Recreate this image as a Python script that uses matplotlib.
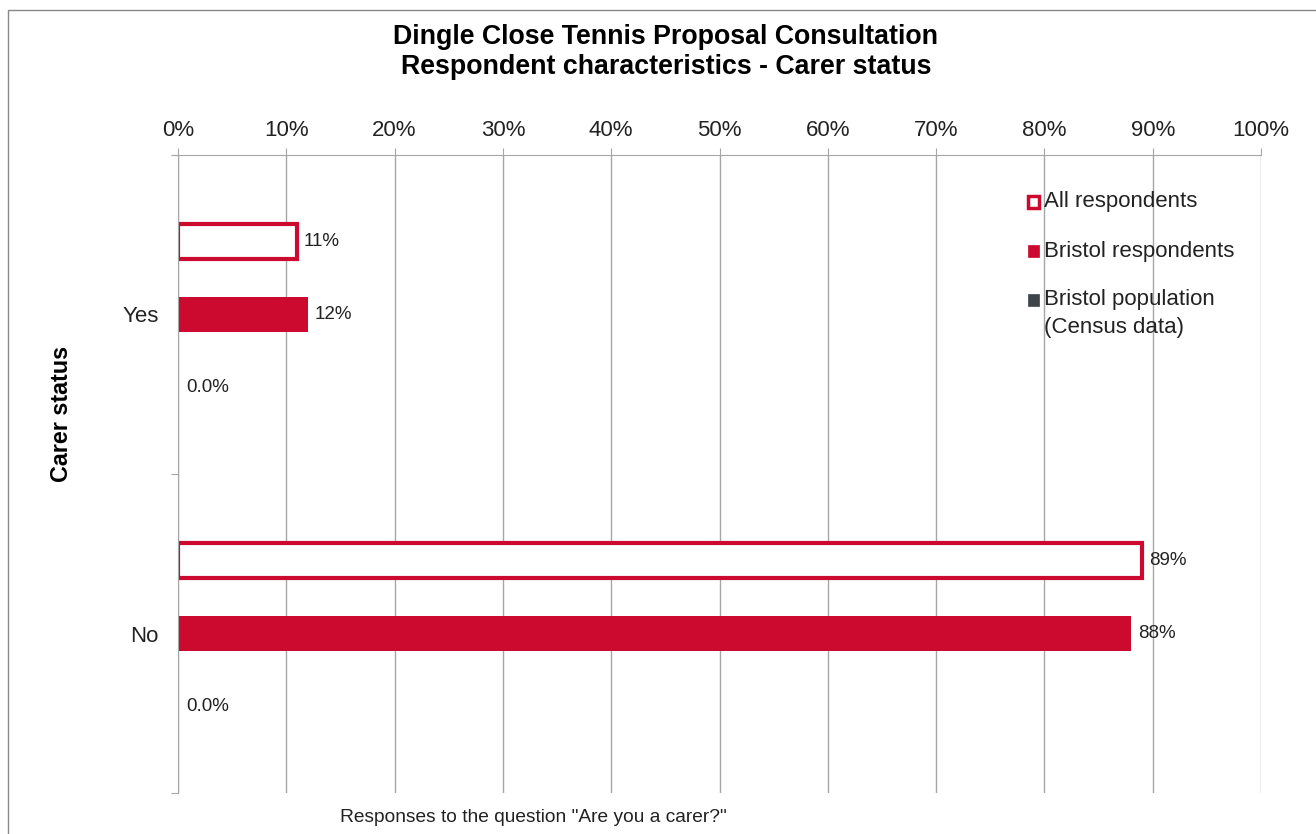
import numpy as np
import matplotlib
matplotlib.use("Agg")
import matplotlib.pyplot as plt
from matplotlib.patches import Rectangle

plt.rcParams["font.family"] = ["Liberation Sans", "DejaVu Sans"]

# Datos
categorias = ["Yes", "No"]
series = ["All respondents", "Bristol respondents", "Bristol population\n(Census data)"]
todos = [11, 89]
bristol = [12, 88]
poblacion = [0.0, 0.0]
etiquetas_todos = ["11%", "89%"]
etiquetas_bristol = ["12%", "88%"]
etiquetas_poblacion = ["0.0%", "0.0%"]
ticks_x = [0, 10, 20, 30, 40, 50, 60, 70, 80, 90, 100]

rojo = "#CC092F"
gris_osc = "#3F4449"
gris = "#A6A6A6"
texto = "#222222"

fig = plt.figure(figsize=(13.16, 8.34), dpi=100)
W, H = 1316, 834
ax = fig.add_axes([178 / W, 1 - 793 / H, (1261 - 178) / W, (793 - 155) / H])

y = np.arange(len(categorias))
sep = 0.229
alto = 0.11

b1 = ax.barh(y - sep, todos, height=alto, facecolor="white", edgecolor=rojo, linewidth=3)
b2 = ax.barh(y, bristol, height=alto, color=rojo)
b3 = ax.barh(y + sep, poblacion, height=alto, color=gris_osc)

ax.bar_label(b1, labels=etiquetas_todos, padding=5, fontsize=13.5, color=texto)
ax.bar_label(b2, labels=etiquetas_bristol, padding=5, fontsize=13.5, color=texto)
ax.bar_label(b3, labels=etiquetas_poblacion, padding=6, fontsize=13.5, color=texto)

# Eje X arriba
ax.set_xlim(0, 100)
ax.set_xticks(ticks_x)
ax.set_xticklabels([f"{t}%" for t in ticks_x], fontsize=16, color=texto)
ax.xaxis.tick_top()
ax.tick_params(axis="x", which="major", length=5, color=gris, pad=5)
ax.grid(axis="x", color=gris, linewidth=1)
ax.set_axisbelow(True)

# Eje Y con categorías
ax.set_ylim(1.5, -0.5)
ax.set_yticks([-0.5, 0.5, 1.5])
ax.set_yticklabels([])
ax.set_yticks(y, minor=True)
ax.set_yticklabels(categorias, minor=True, fontsize=16, color=texto)
ax.tick_params(axis="y", which="major", length=5, color=gris)
ax.tick_params(axis="y", which="minor", length=0, pad=14)

for lado in ["right", "bottom"]:
    ax.spines[lado].set_visible(False)
ax.spines["top"].set_color(gris)
ax.spines["left"].set_color(gris)
ax.spines["top"].set_bounds(-0.6, 100)

# Leyenda
colores_ley = [("white", rojo), (rojo, rojo), (gris_osc, gris_osc)]
filas_y = [202, 251, 300]
for (fc, ec), nombre, yy in zip(colores_ley, series, filas_y):
    lw = 2.5 if fc == "white" else 0.5
    fig.add_artist(Rectangle((1028 / W, 1 - (yy + 6) / H), 11 / W, 12 / H,
                             transform=fig.transFigure, facecolor=fc, edgecolor=ec, linewidth=lw))
    fig.text(1044 / W, 1 - yy / H, nombre.split("\n")[0], ha="left", va="center",
             fontsize=16, color=texto)
fig.text(1044 / W, 1 - 327 / H, series[2].split("\n")[1], ha="left", va="center",
         fontsize=16, color=texto)

# Títulos y textos
fig.text(666 / W, 1 - 37 / H, "Dingle Close Tennis Proposal Consultation",
         ha="center", va="center", fontsize=19.3, fontweight="bold")
fig.text(666 / W, 1 - 67 / H, "Respondent characteristics - Carer status",
         ha="center", va="center", fontsize=19.3, fontweight="bold")
fig.text(62 / W, 1 - 414 / H, "Carer status", rotation=90, ha="center", va="center",
         fontsize=16.8, fontweight="bold")
fig.text(533 / W, 1 - 817 / H, 'Responses to the question "Are you a carer?"',
         ha="center", va="center", fontsize=13.8, color=texto)

# Marco exterior
fig.add_artist(Rectangle((8 / W, -0.1), 1.2, 1 - 10 / H + 0.1, transform=fig.transFigure,
                         fill=False, edgecolor="#888888", linewidth=1))

fig.savefig("out.png", dpi=100)
